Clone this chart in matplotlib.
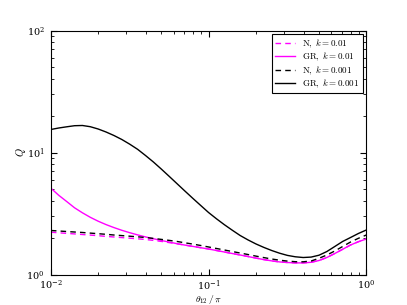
import matplotlib
matplotlib.use("Agg")
import matplotlib.pyplot as plt

plt.rcParams['mathtext.fontset'] = 'cm'
plt.rcParams['font.family'] = 'serif'
plt.rcParams['font.serif'] = ['DejaVu Serif']

theta = [0.01, 0.01122, 0.01259, 0.01413, 0.01585, 0.01778, 0.01995, 0.02239, 0.02512, 0.02818,
         0.03162, 0.03548, 0.03981, 0.04467, 0.05012, 0.05623, 0.06310, 0.07079, 0.07943, 0.08913,
         0.1, 0.1122, 0.1259, 0.1413, 0.1585, 0.1778, 0.1995, 0.2239, 0.2512, 0.2818,
         0.3162, 0.3548, 0.3981, 0.4467, 0.5012, 0.5623, 0.6310, 0.7079, 0.7943, 0.8913, 1.0]

q_n_001 = [2.222, 2.197, 2.173, 2.151, 2.127, 2.104, 2.080, 2.053, 2.030, 2.007,
           1.984, 1.962, 1.936, 1.904, 1.868, 1.826, 1.785, 1.742, 1.700, 1.658,
           1.618, 1.573, 1.529, 1.486, 1.445, 1.404, 1.363, 1.325, 1.293, 1.268,
           1.254, 1.245, 1.245, 1.259, 1.302, 1.378, 1.486, 1.609, 1.745, 1.857, 1.954]
q_gr_001 = [5.098, 4.459, 3.967, 3.522, 3.204, 2.943, 2.734, 2.564, 2.424, 2.303,
            2.201, 2.112, 2.033, 1.965, 1.899, 1.846, 1.788, 1.742, 1.700, 1.658,
            1.618, 1.573, 1.529, 1.486, 1.445, 1.404, 1.363, 1.325, 1.293, 1.268,
            1.254, 1.245, 1.245, 1.259, 1.302, 1.378, 1.486, 1.609, 1.745, 1.857, 1.954]
q_n_0001 = [2.295, 2.273, 2.251, 2.230, 2.210, 2.184, 2.160, 2.135, 2.107, 2.084,
            2.060, 2.037, 2.010, 1.976, 1.940, 1.904, 1.865, 1.819, 1.775, 1.729,
            1.681, 1.634, 1.588, 1.543, 1.500, 1.458, 1.415, 1.376, 1.340, 1.310,
            1.288, 1.273, 1.271, 1.290, 1.358, 1.445, 1.558, 1.696, 1.846, 1.980, 2.107]
q_gr_0001 = [15.44, 15.88, 16.24, 16.58, 16.65, 16.27, 15.58, 14.72, 13.78, 12.78,
             11.70, 10.62, 9.45, 8.36, 7.32, 6.38, 5.55, 4.83, 4.21, 3.68,
             3.22, 2.862, 2.560, 2.307, 2.088, 1.921, 1.781, 1.668, 1.573, 1.495,
             1.434, 1.397, 1.378, 1.389, 1.439, 1.543, 1.696, 1.865, 2.010, 2.169, 2.316]

labels = [r'$\mathrm{N},\ k=0.01$', r'$\mathrm{GR},\ k=0.01$',
          r'$\mathrm{N},\ k=0.001$', r'$\mathrm{GR},\ k=0.001$']

fig = plt.figure(figsize=(4.07, 3.05), dpi=100)
ax = fig.add_axes([0.125, 0.1, 0.775, 0.8])

ax.plot(theta, q_n_001, color='#ff00ff', ls=(0, (4, 3)), lw=1.0, label=labels[0])
ax.plot(theta, q_gr_001, color='#ff00ff', ls='-', lw=1.0, label=labels[1])
ax.plot(theta, q_n_0001, color='black', ls=(0, (4, 3)), lw=1.0, label=labels[2])
ax.plot(theta, q_gr_0001, color='black', ls='-', lw=1.0, label=labels[3])

ax.set_xscale('log')
ax.set_yscale('log')
ax.set_xlim(0.01, 1.0)
ax.set_ylim(1.0, 100.0)

ax.tick_params(which='both', direction='in', top=True, right=True, labelsize=7)
ax.tick_params(axis='x', which='both', pad=2.5)
ax.tick_params(axis='y', which='both', pad=4.5)
ax.tick_params(which='major', length=4, width=0.8)
ax.tick_params(which='minor', length=2, width=0.6)
for s in ax.spines.values():
    s.set_linewidth(0.8)

ax.set_xlabel(r'$\theta_{12}\,/\,\pi$', fontsize=7, va='center')
ax.xaxis.set_label_coords(0.5, -0.102)
ax.set_ylabel(r'$Q$', fontsize=7.5, va='center')
ax.yaxis.set_label_coords(-0.096, 0.5)

leg = ax.legend(loc='upper right', fontsize=6.5, fancybox=False, framealpha=1,
                edgecolor='black', handlelength=2.2, handletextpad=0.8,
                borderpad=0.35, labelspacing=0.1, borderaxespad=0.4)
leg.get_frame().set_linewidth(0.8)

fig.savefig('out.png', dpi=100)
